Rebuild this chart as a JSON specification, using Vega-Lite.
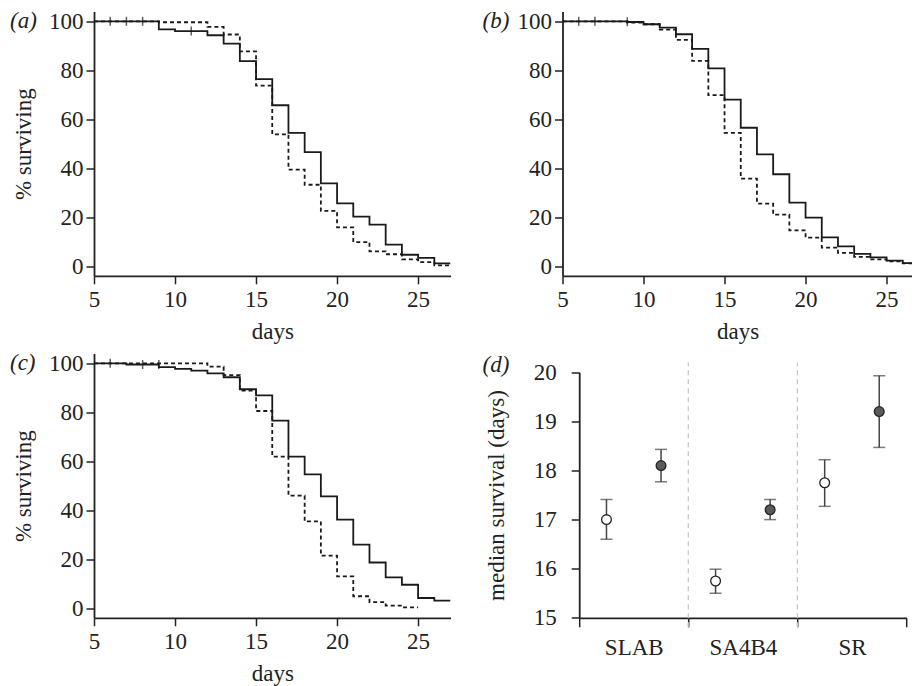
{
  "$schema": "https://vega.github.io/schema/vega-lite/v6.json",
  "padding": {"left": 10, "top": 9.5, "right": 0, "bottom": 0},
  "background": "white",
  "datasets": {
    "a": [
      {"day": 5, "pct": 100, "series": "solid"}, {"day": 9, "pct": 96.7, "series": "solid"}, {"day": 10, "pct": 96.0, "series": "solid"}, {"day": 12, "pct": 94.3, "series": "solid"}, {"day": 13, "pct": 90.9, "series": "solid"}, {"day": 14, "pct": 83.7, "series": "solid"}, {"day": 15, "pct": 76.4, "series": "solid"}, {"day": 16, "pct": 65.7, "series": "solid"}, {"day": 17, "pct": 54.4, "series": "solid"}, {"day": 18, "pct": 46.5, "series": "solid"}, {"day": 19, "pct": 33.8, "series": "solid"}, {"day": 20, "pct": 25.6, "series": "solid"}, {"day": 21, "pct": 20.2, "series": "solid"}, {"day": 22, "pct": 16.9, "series": "solid"}, {"day": 23, "pct": 8.7, "series": "solid"}, {"day": 24, "pct": 4.6, "series": "solid"}, {"day": 25, "pct": 3.3, "series": "solid"}, {"day": 26, "pct": 1.1, "series": "solid"}, {"day": 27, "pct": 1.1, "series": "solid"},
      {"day": 5, "pct": 100, "series": "dashed"}, {"day": 9, "pct": 99.6, "series": "dashed"}, {"day": 12, "pct": 97.7, "series": "dashed"}, {"day": 13, "pct": 94.6, "series": "dashed"}, {"day": 14, "pct": 87.7, "series": "dashed"}, {"day": 15, "pct": 73.7, "series": "dashed"}, {"day": 16, "pct": 53.8, "series": "dashed"}, {"day": 17, "pct": 39.4, "series": "dashed"}, {"day": 18, "pct": 33.2, "series": "dashed"}, {"day": 19, "pct": 22.5, "series": "dashed"}, {"day": 20, "pct": 15.8, "series": "dashed"}, {"day": 21, "pct": 9.8, "series": "dashed"}, {"day": 22, "pct": 6.0, "series": "dashed"}, {"day": 23, "pct": 4.8, "series": "dashed"}, {"day": 24, "pct": 2.7, "series": "dashed"}, {"day": 25, "pct": 1.6, "series": "dashed"}, {"day": 26, "pct": 0.3, "series": "dashed"}, {"day": 27, "pct": 0.3, "series": "dashed"}
    ],
    "a_cens": [
      {"day": 6, "pct": 100}, {"day": 7, "pct": 100}, {"day": 8, "pct": 100}, {"day": 11, "pct": 96.0}
    ],
    "b": [
      {"day": 5, "pct": 100, "series": "solid"}, {"day": 9, "pct": 99.7, "series": "solid"}, {"day": 10, "pct": 98.8, "series": "solid"}, {"day": 11, "pct": 97.4, "series": "solid"}, {"day": 12, "pct": 94.7, "series": "solid"}, {"day": 13, "pct": 88.7, "series": "solid"}, {"day": 14, "pct": 80.8, "series": "solid"}, {"day": 15, "pct": 68.0, "series": "solid"}, {"day": 16, "pct": 56.5, "series": "solid"}, {"day": 17, "pct": 45.6, "series": "solid"}, {"day": 18, "pct": 37.5, "series": "solid"}, {"day": 19, "pct": 25.9, "series": "solid"}, {"day": 20, "pct": 19.8, "series": "solid"}, {"day": 21, "pct": 11.7, "series": "solid"}, {"day": 22, "pct": 8.0, "series": "solid"}, {"day": 23, "pct": 5.0, "series": "solid"}, {"day": 24, "pct": 3.5, "series": "solid"}, {"day": 25, "pct": 2.2, "series": "solid"}, {"day": 26, "pct": 1.2, "series": "solid"}, {"day": 27, "pct": 1.2, "series": "solid"},
      {"day": 5, "pct": 100, "series": "dashed"}, {"day": 9, "pct": 99.5, "series": "dashed"}, {"day": 10, "pct": 98.8, "series": "dashed"}, {"day": 11, "pct": 96.6, "series": "dashed"}, {"day": 12, "pct": 92.4, "series": "dashed"}, {"day": 13, "pct": 83.8, "series": "dashed"}, {"day": 14, "pct": 69.8, "series": "dashed"}, {"day": 15, "pct": 54.4, "series": "dashed"}, {"day": 16, "pct": 35.7, "series": "dashed"}, {"day": 17, "pct": 25.5, "series": "dashed"}, {"day": 18, "pct": 21.0, "series": "dashed"}, {"day": 19, "pct": 14.6, "series": "dashed"}, {"day": 20, "pct": 11.6, "series": "dashed"}, {"day": 21, "pct": 7.5, "series": "dashed"}, {"day": 22, "pct": 5.4, "series": "dashed"}, {"day": 23, "pct": 3.7, "series": "dashed"}, {"day": 24, "pct": 2.7, "series": "dashed"}, {"day": 25, "pct": 1.9, "series": "dashed"}, {"day": 26, "pct": 1.1, "series": "dashed"}, {"day": 27, "pct": 1.1, "series": "dashed"}
    ],
    "b_cens": [
      {"day": 6, "pct": 100}, {"day": 7, "pct": 100}, {"day": 9, "pct": 99.8}
    ],
    "c": [
      {"day": 5, "pct": 100, "series": "solid"}, {"day": 7, "pct": 99.5, "series": "solid"}, {"day": 9, "pct": 98.4, "series": "solid"}, {"day": 10, "pct": 97.7, "series": "solid"}, {"day": 11, "pct": 97.0, "series": "solid"}, {"day": 12, "pct": 95.9, "series": "solid"}, {"day": 13, "pct": 94.3, "series": "solid"}, {"day": 14, "pct": 89.4, "series": "solid"}, {"day": 15, "pct": 86.9, "series": "solid"}, {"day": 16, "pct": 76.6, "series": "solid"}, {"day": 17, "pct": 61.9, "series": "solid"}, {"day": 18, "pct": 54.6, "series": "solid"}, {"day": 19, "pct": 45.6, "series": "solid"}, {"day": 20, "pct": 36.1, "series": "solid"}, {"day": 21, "pct": 25.9, "series": "solid"}, {"day": 22, "pct": 18.6, "series": "solid"}, {"day": 23, "pct": 12.5, "series": "solid"}, {"day": 24, "pct": 9.5, "series": "solid"}, {"day": 25, "pct": 4.1, "series": "solid"}, {"day": 26, "pct": 3.0, "series": "solid"}, {"day": 27, "pct": 3.0, "series": "solid"},
      {"day": 5, "pct": 100, "series": "dashed"}, {"day": 12, "pct": 98.6, "series": "dashed"}, {"day": 13, "pct": 95.2, "series": "dashed"}, {"day": 14, "pct": 88.8, "series": "dashed"}, {"day": 15, "pct": 80.5, "series": "dashed"}, {"day": 16, "pct": 61.9, "series": "dashed"}, {"day": 17, "pct": 45.9, "series": "dashed"}, {"day": 18, "pct": 35.4, "series": "dashed"}, {"day": 19, "pct": 21.4, "series": "dashed"}, {"day": 20, "pct": 12.9, "series": "dashed"}, {"day": 21, "pct": 4.8, "series": "dashed"}, {"day": 22, "pct": 2.4, "series": "dashed"}, {"day": 23, "pct": 1.0, "series": "dashed"}, {"day": 24, "pct": 0.3, "series": "dashed"}, {"day": 25, "pct": 0.3, "series": "dashed"}
    ],
    "c_cens": [
      {"day": 6, "pct": 100}, {"day": 8, "pct": 99.5}, {"day": 9, "pct": 99.5}
    ],
    "d": [
      {"strain": "SLAB", "group": "open", "median": 17.0, "lo": 16.6, "hi": 17.41},
      {"strain": "SLAB", "group": "filled", "median": 18.1, "lo": 17.77, "hi": 18.43},
      {"strain": "SA4B4", "group": "open", "median": 15.75, "lo": 15.5, "hi": 15.99},
      {"strain": "SA4B4", "group": "filled", "median": 17.2, "lo": 17.0, "hi": 17.41},
      {"strain": "SR", "group": "open", "median": 17.75, "lo": 17.27, "hi": 18.22},
      {"strain": "SR", "group": "filled", "median": 19.2, "lo": 18.47, "hi": 19.93}
    ],
    "dividers": [
      {"strain": "SA4B4", "lo": 14.81, "hi": 20.2},
      {"strain": "SR", "lo": 14.81, "hi": 20.2}
    ]
  },
  "config": {
    "font": "Liberation Serif",
    "view": {"stroke": null},
    "axis": {
      "domainColor": "#222", "domainWidth": 1.8, "tickColor": "#222", "tickWidth": 1.5, "tickSize": 8,
      "labelFont": "Liberation Serif", "labelFontSize": 23, "labelColor": "#222", "labelFlush": false, "labelOverlap": false,
      "titleFont": "Liberation Serif", "titleFontSize": 23, "titleFontWeight": "normal", "titleColor": "#222",
      "grid": false
    },
    "title": {"font": "Liberation Serif", "fontSize": 23, "fontWeight": "normal", "fontStyle": "italic", "color": "#222", "anchor": "start", "frame": "group", "offset": -23, "baseline": "bottom"}
  },
  "vconcat": [
    {
      "hconcat": [
        {
          "width": 356.5, "height": 264.3,
          "title": {"text": "(a)", "dx": -84},
          "encoding": {
            "x": {"field": "day", "type": "quantitative", "scale": {"domain": [5, 27], "nice": false, "zero": false}, "axis": {"values": [5, 10, 15, 20, 25], "title": "days", "labelPadding": 5, "titlePadding": 9}},
            "y": {"field": "pct", "type": "quantitative", "scale": {"domain": [-4, 104], "nice": false, "zero": false}, "axis": {"values": [0, 20, 40, 60, 80, 100], "title": "% surviving", "labelPadding": 3, "titlePadding": 13}}
          },
          "layer": [
            {"data": {"name": "a"}, "mark": {"type": "line", "interpolate": "step-after", "clip": true, "color": "#1a1a1a", "strokeWidth": 1.8},
             "encoding": {"strokeDash": {"field": "series", "type": "nominal", "scale": {"domain": ["solid", "dashed"], "range": [[1, 0], [4, 3]]}, "legend": null}}},
            {"data": {"name": "a_cens"}, "mark": {"type": "tick", "orient": "vertical", "size": 9, "thickness": 1.5, "color": "#1a1a1a"}}
          ]
        },
        {
          "width": 350, "height": 264.3,
          "title": {"text": "(b)", "dx": -80},
          "encoding": {
            "x": {"field": "day", "type": "quantitative", "scale": {"domain": [5, 26.6], "nice": false, "zero": false}, "axis": {"values": [5, 10, 15, 20, 25], "title": "days", "labelPadding": 5, "titlePadding": 9}},
            "y": {"field": "pct", "type": "quantitative", "scale": {"domain": [-4, 104], "nice": false, "zero": false}, "axis": {"values": [0, 20, 40, 60, 80, 100], "title": null, "labelPadding": 3}}
          },
          "layer": [
            {"data": {"name": "b"}, "mark": {"type": "line", "interpolate": "step-after", "clip": true, "color": "#1a1a1a", "strokeWidth": 1.8},
             "encoding": {"strokeDash": {"field": "series", "type": "nominal", "scale": {"domain": ["solid", "dashed"], "range": [[1, 0], [4, 3]]}, "legend": null}}},
            {"data": {"name": "b_cens"}, "mark": {"type": "tick", "orient": "vertical", "size": 9, "thickness": 1.5, "color": "#1a1a1a"}}
          ]
        }
      ],
      "bounds": "flush",
      "spacing": 111.5
    },
    {
      "hconcat": [
        {
          "width": 356.5, "height": 264.3,
          "title": {"text": "(c)", "dx": -84},
          "encoding": {
            "x": {"field": "day", "type": "quantitative", "scale": {"domain": [5, 27], "nice": false, "zero": false}, "axis": {"values": [5, 10, 15, 20, 25], "title": "days", "labelPadding": 5, "titlePadding": 9}},
            "y": {"field": "pct", "type": "quantitative", "scale": {"domain": [-4, 104], "nice": false, "zero": false}, "axis": {"values": [0, 20, 40, 60, 80, 100], "title": "% surviving", "labelPadding": 3, "titlePadding": 13}}
          },
          "layer": [
            {"data": {"name": "c"}, "mark": {"type": "line", "interpolate": "step-after", "clip": true, "color": "#1a1a1a", "strokeWidth": 1.8},
             "encoding": {"strokeDash": {"field": "series", "type": "nominal", "scale": {"domain": ["solid", "dashed"], "range": [[1, 0], [4, 3]]}, "legend": null}}},
            {"data": {"name": "c_cens"}, "mark": {"type": "tick", "orient": "vertical", "size": 9, "thickness": 1.5, "color": "#1a1a1a"}}
          ]
        },
        {
          "width": 327.3, "height": 264.3,
          "title": {"text": "(d)", "dx": -96.7},
          "encoding": {
            "x": {"field": "strain", "type": "nominal", "scale": {"domain": ["SLAB", "SA4B4", "SR"], "paddingInner": 0, "paddingOuter": 0}, "axis": {"title": null, "labelAngle": 0, "tickBand": "extent", "labelPadding": 10, "tickSize": 9}}
          },
          "layer": [
            {"data": {"name": "dividers"}, "mark": {"type": "rule", "color": "#c4c4c4", "strokeDash": [5, 4], "strokeWidth": 1.2},
             "encoding": {
               "x": {"field": "strain", "type": "nominal", "bandPosition": 0},
               "y": {"field": "lo", "type": "quantitative", "scale": {"domain": [15, 20], "range": [264.3, 18.8], "nice": false, "zero": false}, "axis": {"values": [15, 16, 17, 18, 19, 20], "title": "median survival (days)", "labelPadding": 15, "titlePadding": 25}},
               "y2": {"field": "hi"}
             }},
            {"data": {"name": "d"}, "mark": {"type": "rule", "color": "#444", "strokeWidth": 1.5},
             "encoding": {
               "xOffset": {"field": "group", "type": "nominal", "scale": {"domain": ["open", "filled"], "paddingInner": 0, "paddingOuter": 0}},
               "y": {"field": "lo", "type": "quantitative"},
               "y2": {"field": "hi"}
             }},
            {"data": {"name": "d"}, "mark": {"type": "tick", "orient": "horizontal", "size": 12, "thickness": 1.5, "color": "#444"},
             "encoding": {
               "xOffset": {"field": "group", "type": "nominal"},
               "y": {"field": "lo", "type": "quantitative"}
             }},
            {"data": {"name": "d"}, "mark": {"type": "tick", "orient": "horizontal", "size": 12, "thickness": 1.5, "color": "#444"},
             "encoding": {
               "xOffset": {"field": "group", "type": "nominal"},
               "y": {"field": "hi", "type": "quantitative"}
             }},
            {"data": {"name": "d"}, "mark": {"type": "point", "filled": true, "size": 95, "stroke": "#222", "strokeWidth": 1.3, "opacity": 1},
             "encoding": {
               "xOffset": {"field": "group", "type": "nominal"},
               "y": {"field": "median", "type": "quantitative"},
               "fill": {"field": "group", "type": "nominal", "scale": {"domain": ["open", "filled"], "range": ["#ffffff", "#5a5a5a"]}, "legend": null}
             }}
          ]
        }
      ],
      "bounds": "flush",
      "spacing": 128.2
    }
  ],
  "spacing": 7
}
